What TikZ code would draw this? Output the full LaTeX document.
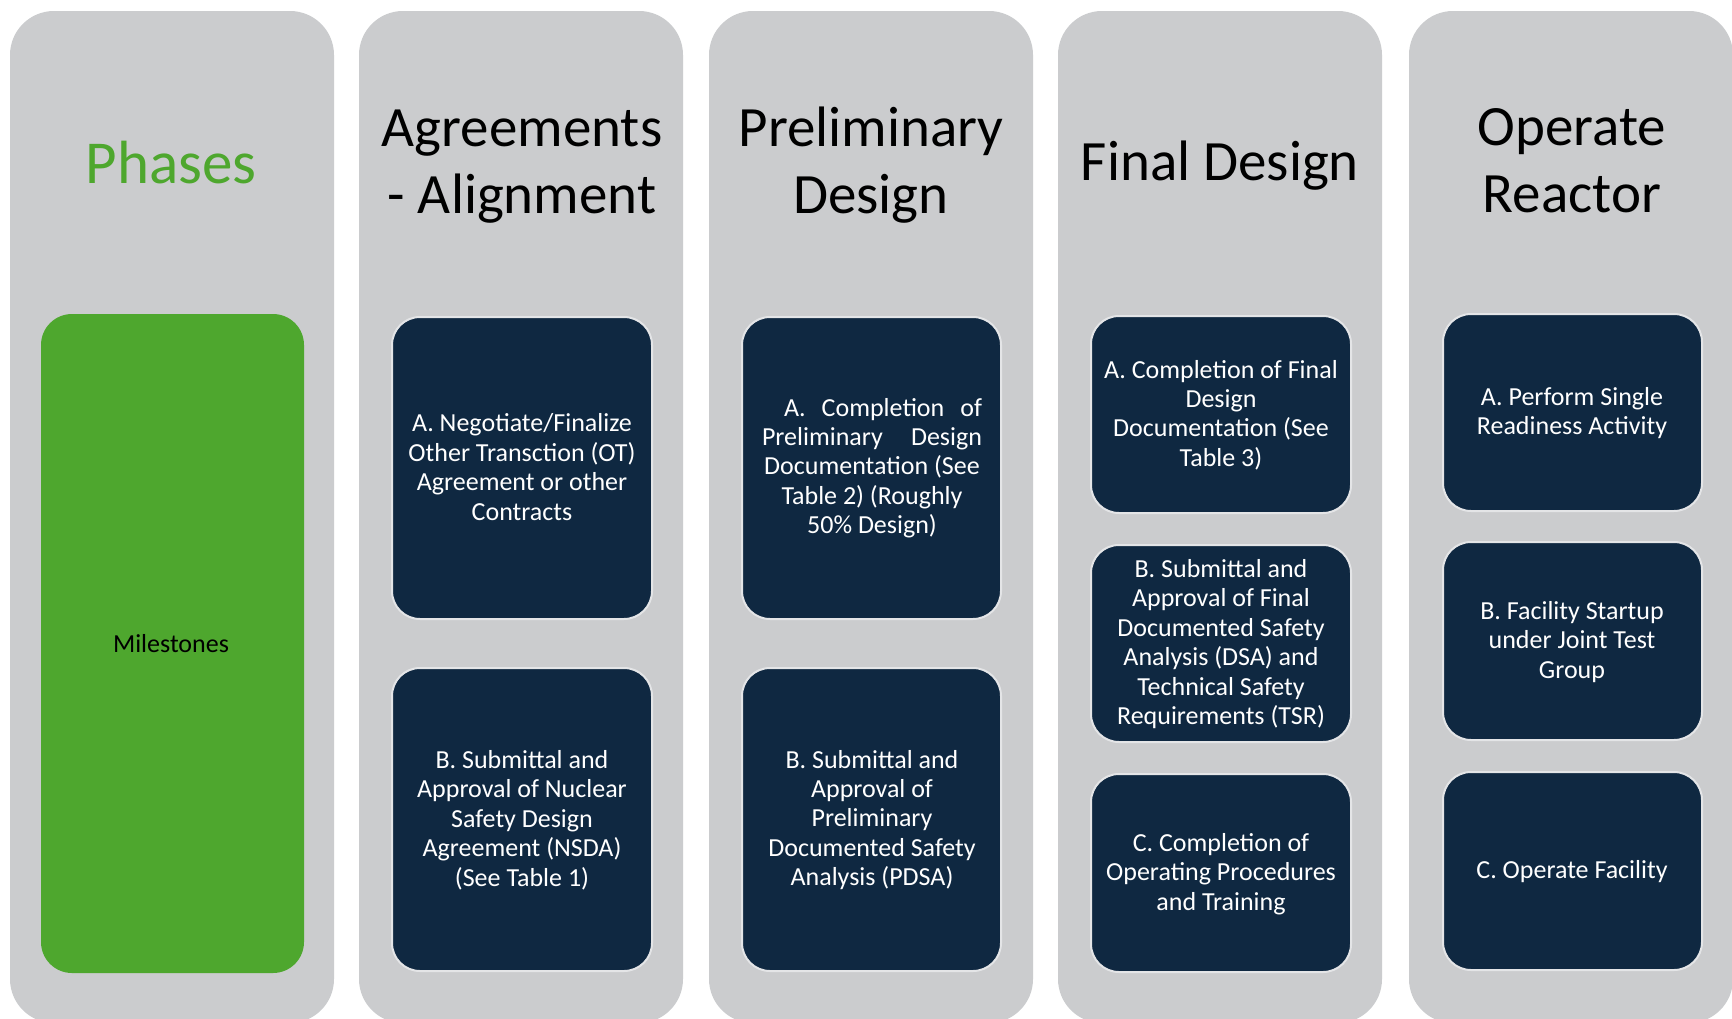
\documentclass[tikz,border=0pt]{standalone}
\usepackage{fontspec}
\setmainfont{Carlito}
\definecolor{colgray}{HTML}{CBCCCE}
\definecolor{msgreen}{HTML}{4EA72E}
\definecolor{navy}{HTML}{0F2841}
\definecolor{boxedge}{HTML}{E4E5E7}
\begin{document}
\begin{tikzpicture}[x=1pt,y=-1pt,
  column/.style={fill=colgray,draw=none,rounded corners=44pt},
  title/.style={align=center,font=\fontsize{57}{67}\selectfont,text=black,inner sep=0pt},
  mbox/.style={fill=navy,draw=boxedge,line width=2pt,rounded corners=28pt,
     align=center,text=white,font=\fontsize{26}{29.4}\selectfont,inner sep=0pt},
  btext/.style={align=center,text=white,font=\fontsize{26}{29.4}\selectfont}]
\useasboundingbox (0,0) rectangle (1732,1018);
\fill[white] (0,0) rectangle (1732,1018);
\begin{scope}
\clip (0,0) rectangle (1732,1018);
% columns
\foreach \x in {10,359,709,1058,1409}{
  \path[column] (\x,11) rectangle ++(324,1012);
}
\end{scope}
% titles
\node[title,text=msgreen,font=\fontsize{61}{67}\selectfont] (t1) at (171,163) {Phases};
\node[title] (t2) at (522,167) {Agreements\\- Alignment};
\node[title] (t3) at (871,165) {Preliminary\\Design};
\node[title] (t4) at (1220,166) {Final Design};
\node[title] (t5) at (1572,161) {Operate\\Reactor};
% milestones box
\path[fill=msgreen,rounded corners=31pt] (41,314) rectangle (304,973);
\node[font=\fontsize{26}{29.4}\selectfont,text=black] (ms) at (171,644) {Milestones};
% column 2
\path[mbox] (392,317) rectangle (652,619);
\node[btext] (c2a) at (522,467)
  {A. Negotiate/Finalize\\Other Transction (OT)\\Agreement or other\\Contracts};
\path[mbox] (392,668) rectangle (652,971);
\node[btext] (c2b) at (522,820)
  {B. Submittal and\\Approval of Nuclear\\Safety Design\\Agreement (NSDA)\\(See Table 1)};
% column 3
\path[mbox] (742,317) rectangle (1001,619);
\node[btext] (c3a) at (872,468)
  {\hspace*{22pt}\makebox[198pt][s]{A.\hfill Completion\hfill of}\\
   \makebox[220pt][s]{Preliminary\hfill Design}\\Documentation (See\\Table 2) (Roughly\\50\% Design)};
\path[mbox] (742,668) rectangle (1001,971);
\node[btext] (c3b) at (872,820)
  {B. Submittal and\\Approval of\\Preliminary\\Documented Safety\\Analysis (PDSA)};
% column 4
\path[mbox] (1091,316) rectangle (1351,513);
\node[btext] (c4a) at (1221,415)
  {A. Completion of Final\\Design\\Documentation (See\\Table 3)};
\path[mbox] (1091,545) rectangle (1351,742);
\node[btext] (c4b) at (1221,644)
  {B. Submittal and\\Approval of Final\\Documented Safety\\Analysis (DSA) and\\Technical Safety\\Requirements (TSR)};
\path[mbox] (1091,774) rectangle (1351,972);
\node[btext] (c4c) at (1221,874)
  {C. Completion of\\Operating Procedures\\and Training};
% column 5
\path[mbox] (1443,314) rectangle (1702,511);
\node[btext] (c5a) at (1572,413)
  {A. Perform Single\\Readiness Activity};
\path[mbox] (1443,542) rectangle (1702,740);
\node[btext] (c5b) at (1572,642)
  {B. Facility Startup\\under Joint Test\\Group};
\path[mbox] (1443,772) rectangle (1702,970);
\node[btext] (c5c) at (1572,872)
  {C. Operate Facility};
\end{tikzpicture}
\end{document}
